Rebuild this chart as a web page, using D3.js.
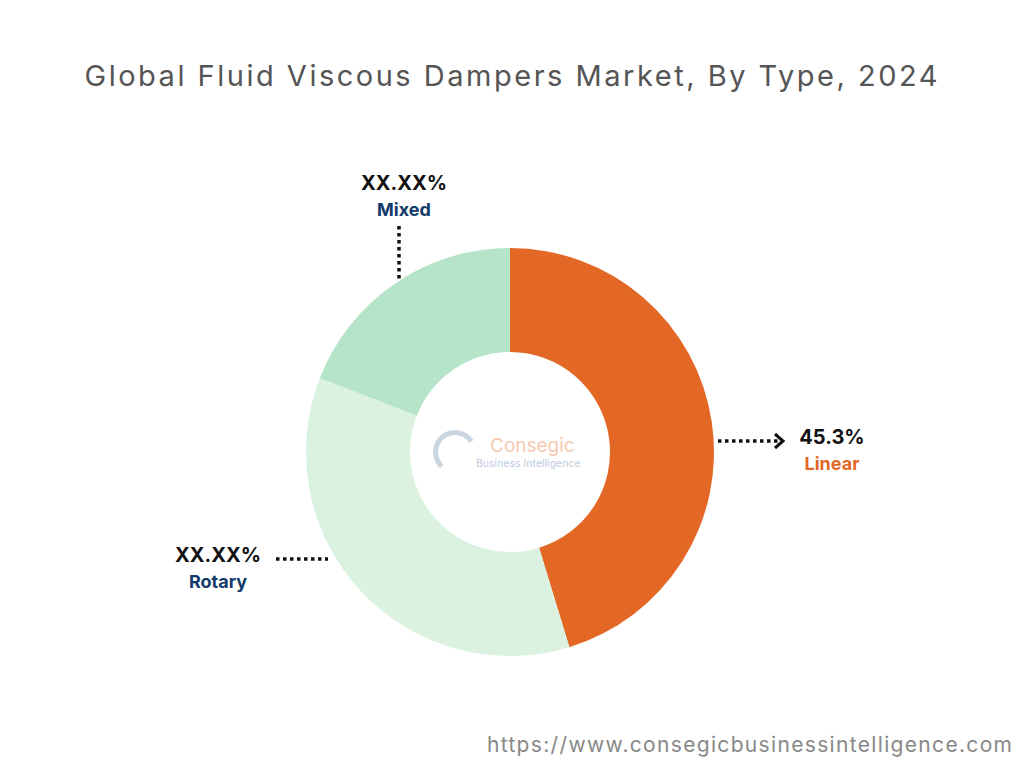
<!DOCTYPE html>
<html><head><meta charset="utf-8">
<script src="https://cdn.jsdelivr.net/npm/d3@7"></script>
<style>body{margin:0;background:#fff}</style>
</head><body>
<script>
// Data
var categories = ['Linear', 'Rotary', 'Mixed'];
var values = [45.3, 35.6, 19.1];
var labels = ['45.3%', 'XX.XX%', 'XX.XX%'];
var colors = ['#e36826', '#daf2df', '#b6e4c8'];

var width = 1024, height = 768;
var cx = 510, cy = 452, outerR = 204, innerR = 100;

var svg = d3.select('body').append('svg')
  .attr('width', width).attr('height', height)
  .attr('font-family', 'Inter, "Open Sans", sans-serif');

svg.append('text').attr('x', 512).attr('y', 86).attr('text-anchor', 'middle')
  .attr('font-size', 29).attr('fill', '#555').attr('letter-spacing', 2)
  .attr('textLength', 855).attr('lengthAdjust', 'spacing')
  .text('Global Fluid Viscous Dampers Market, By Type, 2024');

var pie = d3.pie().sort(null).value(function(d) { return d; });
var arc = d3.arc().innerRadius(innerR).outerRadius(outerR);
var g = svg.append('g').attr('transform', 'translate(' + cx + ',' + cy + ')');
g.selectAll('path').data(pie(values)).enter().append('path')
  .attr('d', arc).attr('fill', function(d, i) { return colors[i]; });

// watermark
var wm = svg.append('g').attr('opacity', 0.55);
wm.append('path').attr('d', d3.arc().innerRadius(17).outerRadius(22).startAngle(-2.4).endAngle(1.0)())
  .attr('transform', 'translate(455,452)').attr('fill', '#9fb3cc');
wm.append('text').attr('x', 490).attr('y', 452).attr('font-size', 19).attr('fill', '#f0a070').text('Consegic');
wm.append('text').attr('x', 476).attr('y', 467).attr('font-size', 10.5).attr('fill', '#8aa0c0').text('Business Intelligence');

// annotations
function dotted(x1, y1, x2, y2) {
  svg.append('line').attr('x1', x1).attr('y1', y1).attr('x2', x2).attr('y2', y2)
    .attr('stroke', '#111').attr('stroke-width', 3.5).attr('stroke-dasharray', '3.5,3.5');
}
dotted(718, 441, 778, 441);
svg.append('path').attr('d', 'M775,434 L783,441 L775,448').attr('fill', 'none')
  .attr('stroke', '#111').attr('stroke-width', 3);
dotted(399, 226, 399, 280);
dotted(276, 559, 328, 559);

var ann = [
  {x: 832, y: 444, c: 0, anchor: 'middle'},
  {x: 218, y: 562, c: 1, anchor: 'middle'},
  {x: 404, y: 190, c: 2, anchor: 'middle'}
];
ann.forEach(function(a) {
  svg.append('text').attr('x', a.x).attr('y', a.y).attr('text-anchor', a.anchor)
    .attr('font-size', 20).attr('font-weight', 'bold').attr('fill', '#111').text(labels[a.c]);
  svg.append('text').attr('x', a.x).attr('y', a.y + 26).attr('text-anchor', a.anchor)
    .attr('font-size', 18).attr('font-weight', 'bold')
    .attr('fill', a.c === 0 ? '#e36826' : '#123a6b').text(categories[a.c]);
});

svg.append('text').attr('x', 487).attr('y', 752)
  .attr('font-size', 21).attr('fill', '#888')
  .attr('textLength', 525).attr('lengthAdjust', 'spacing')
  .text('https://www.consegicbusinessintelligence.com');
</script>
</body></html>
